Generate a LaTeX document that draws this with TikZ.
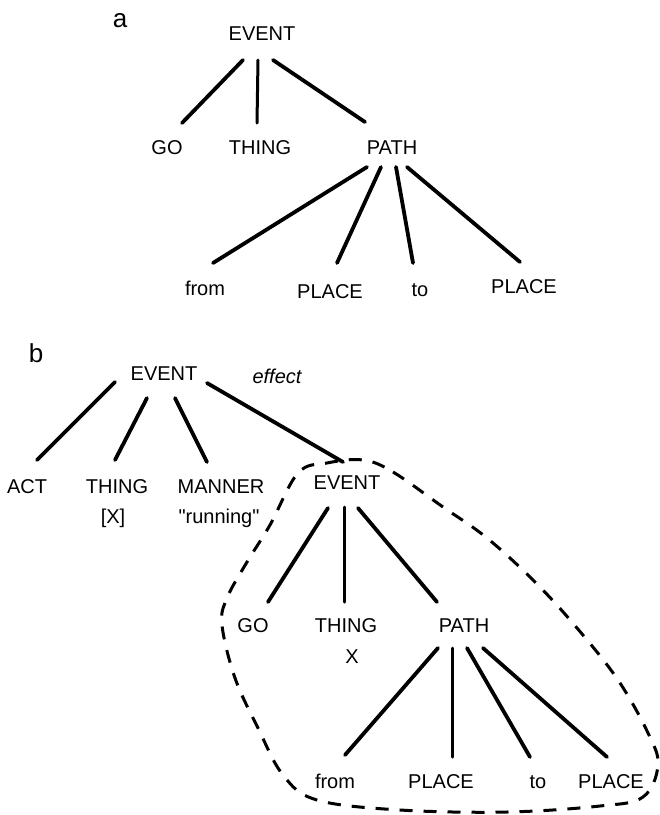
\documentclass[tikz,border=0pt]{standalone}
\usepackage{fontspec}
\setmainfont{Liberation Sans}
\newfontfamily\plainq{Liberation Sans}[Ligatures=TeXOff]
\begin{document}
\begin{tikzpicture}[x=1pt,y=-1pt,
  lbl/.style={anchor=base,inner sep=0pt,font=\fontsize{20}{24}\selectfont},
  panel/.style={anchor=base,inner sep=0pt,font=\fontsize{26}{30}\selectfont},
  edge/.style={line width=3.8pt,line cap=round},
  vedge/.style={line width=3.0pt,line cap=round},
  outline/.style={line width=3.0pt,dash pattern=on 13pt off 11pt}]
\useasboundingbox (0,0) rectangle (660,815);
% ---------- panel a ----------
\node[panel] (pa) at (120,27) {a};
\node[lbl] (eva) at (262,40) {EVENT};
\node[lbl] (goa) at (167,154) {GO};
\node[lbl] (thinga) at (260,154) {THING};
\node[lbl] (patha) at (392,154) {PATH};
\node[lbl] (froma) at (205,295) {from};
\node[lbl] (placea) at (330,298) {PLACE};
\node[lbl] (toa) at (420,296) {to};
\node[lbl] (placeb) at (524,293) {PLACE};
\draw[edge] ([shift={(-19,20)}]eva.base) -- ([shift={(15,-31)}]goa.base);
\draw[vedge] ([shift={(-4,20)}]eva.base) -- ([shift={(-3,-31)}]thinga.base);
\draw[edge] ([shift={(11,20)}]eva.base) -- ([shift={(-27,-32)}]patha.base);
\draw[edge] ([shift={(-25,13)}]patha.base) -- ([shift={(8,-32)}]froma.base);
\draw[edge] ([shift={(-11,13)}]patha.base) -- ([shift={(7,-35)}]placea.base);
\draw[edge] ([shift={(4,13)}]patha.base) -- ([shift={(-7,-33)}]toa.base);
\draw[edge] ([shift={(15,13)}]patha.base) -- ([shift={(-4,-31)}]placeb.base);
% ---------- panel b ----------
\node[panel] (pb) at (36,362) {b};
\node[lbl] (evb) at (164,380) {EVENT};
\node[lbl,font=\fontsize{20}{24}\selectfont\itshape] (effect) at (277,383) {effect};
\node[lbl] (act) at (27,493) {ACT};
\node[lbl] (thingb) at (117,493) {THING};
\node[lbl] (xb) at (113,523) {[X]};
\node[lbl] (manner) at (221,493) {MANNER};
\node[lbl,font=\fontsize{20}{24}\plainq] (running) at (219,523) {"running"};
\node[lbl] (ev2) at (347,489) {EVENT};
\node[lbl] (gob) at (253,632) {GO};
\node[lbl] (thingc) at (346,632) {THING};
\node[lbl] (xc) at (352,663) {X};
\node[lbl] (pathb) at (464,632) {PATH};
\node[lbl] (fromb) at (335,788) {from};
\node[lbl] (placec) at (441,788) {PLACE};
\node[lbl] (tob) at (538,788) {to};
\node[lbl] (placed) at (611,788) {PLACE};
\draw[edge] ([shift={(-49,2)}]evb.base) -- ([shift={(10,-33)}]act.base);
\draw[edge] ([shift={(-17,18)}]evb.base) -- ([shift={(-2,-33)}]thingb.base);
\draw[edge] ([shift={(11,18)}]evb.base) -- ([shift={(-14,-31)}]manner.base);
\draw[edge] ([shift={(43,3)}]evb.base) -- ([shift={(-4,-27)}]ev2.base);
\draw[edge] ([shift={(-19,19)}]ev2.base) -- ([shift={(15,-30)}]gob.base);
\draw[vedge] ([shift={(-3,18)}]ev2.base) -- ([shift={(-2,-30)}]thingc.base);
\draw[edge] ([shift={(11,19)}]ev2.base) -- ([shift={(-27,-30)}]pathb.base);
\draw[edge] ([shift={(-26,16)}]pathb.base) -- ([shift={(10,-33)}]fromb.base);
\draw[vedge] ([shift={(-12,16)}]pathb.base) -- ([shift={(11,-31)}]placec.base);
\draw[edge] ([shift={(3,16)}]pathb.base) -- ([shift={(-8,-31)}]tob.base);
\draw[edge] ([shift={(19,16)}]pathb.base) -- ([shift={(-4,-31)}]placed.base);
% dashed outline
\draw[outline] plot[smooth cycle,tension=0.6] coordinates {
 (363,460) (393,472) (443,507) (487,538) (535,582) (577,628) (618,680)
 (648,733) (658,765) (643,797) (600,806) (507,812) (400,810) (317,800)
 (283,775) (258,728) (235,678) (222,625) (227,598) (247,562) (270,525)
 (298,473) (327,463)};
\end{tikzpicture}
\end{document}
